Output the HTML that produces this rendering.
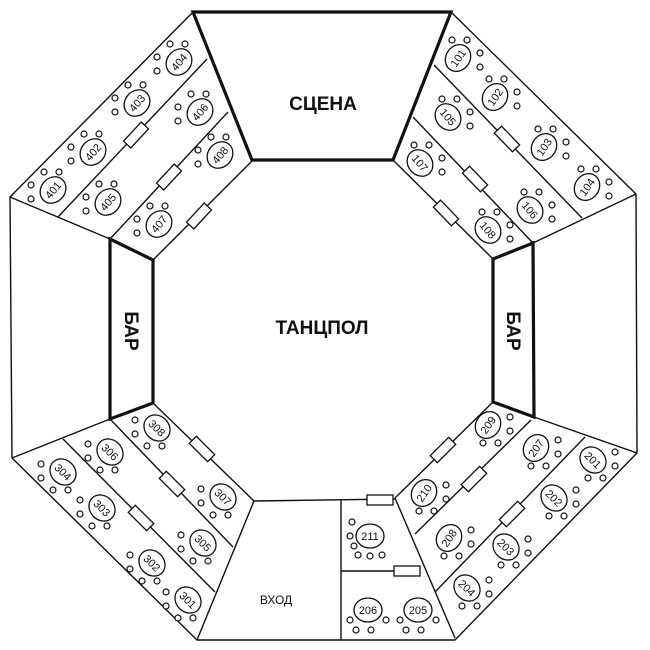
<!DOCTYPE html>
<html><head><meta charset="utf-8"><style>
html,body{margin:0;padding:0;background:#fff}
svg{display:block}
text{font-family:"Liberation Sans",sans-serif;fill:#111}
</style></head><body>
<svg id="s" width="650" height="650" viewBox="0 0 650 650" xmlns="http://www.w3.org/2000/svg">
<g fill="none" stroke="#111" stroke-width="1.4" stroke-linejoin="round">
<polyline points="193,12 10,197 12,458 197,640 455,640 637,453 636,194 451,12"/>
<line x1="10" y1="197" x2="110" y2="239"/>
<line x1="207" y1="59" x2="58" y2="217"/>
<line x1="228" y1="112" x2="110" y2="239"/>
<line x1="636" y1="194" x2="533" y2="243"/>
<line x1="434" y1="65" x2="582" y2="218"/>
<line x1="413" y1="117" x2="533" y2="243"/>
<line x1="12" y1="458" x2="110" y2="419"/>
<line x1="63" y1="439" x2="215" y2="592"/>
<line x1="110" y1="419" x2="233" y2="547"/>
<line x1="153" y1="403" x2="254" y2="501"/>
<line x1="254" y1="501" x2="197" y2="640"/>
<line x1="254" y1="501" x2="395" y2="499"/>
<line x1="341" y1="500" x2="341" y2="640"/>
<line x1="341" y1="571" x2="420" y2="571"/>
<line x1="395" y1="498" x2="455" y2="638"/>
<line x1="395" y1="498" x2="493" y2="402"/>
<line x1="534" y1="417" x2="637" y2="453"/>
<line x1="531" y1="420" x2="415" y2="534"/>
<line x1="585" y1="437" x2="435" y2="592"/>
<line x1="252" y1="161" x2="153" y2="260"/>
<line x1="393" y1="160" x2="493" y2="259"/>
</g>
<g fill="none" stroke="#111" stroke-width="3.2" stroke-linejoin="miter">
<polygon points="193,12 451,12 393,160 252,160"/>
<polygon points="110,239 153,260 153,403 110,419"/>
<polygon points="493,259 533,243 534,417 493,402"/>
</g>
<text x="323" y="110" font-size="19" font-weight="bold" text-anchor="middle">СЦЕНА</text>
<text x="322" y="334" font-size="19" font-weight="bold" text-anchor="middle">ТАНЦПОЛ</text>
<text x="0" y="0" font-size="19" font-weight="bold" text-anchor="middle" transform="translate(125,331) rotate(90)">БАР</text>
<text x="0" y="0" font-size="19" font-weight="bold" text-anchor="middle" transform="translate(507,331) rotate(90)">БАР</text>
<text x="276" y="604" font-size="12" text-anchor="middle">ВХОД</text>
<g id="t"></g>
</svg>
<script>
var g=document.getElementById('t'),h='';
var T=[
[401,53,190,-50,'a'],[402,93,152,-50,'a'],[403,137,103,-50,'a'],[404,179,62,-50,'a'],[405,108,202,-50,'a'],[406,200,112,-50,'a'],[407,159,224,-50,'a'],[408,220,155,-50,'a'],
[101,458,58,-55,'b'],[102,495,97,-55,'b'],[103,544,147,-55,'b'],[104,587,187,-55,'b'],[105,448,117,50,'b'],[106,530,210,50,'b'],[107,420,163,50,'b'],[108,488,230,50,'b'],
[304,63,472,45,'c'],[303,102,508,45,'c'],[302,152,563,45,'c'],[301,188,600,45,'c'],[306,110,452,45,'c'],[305,203,543,45,'c'],[308,157,428,45,'c'],[307,223,497,45,'c'],
[209,488,425,-55,'d'],[210,424,493,-55,'d'],[207,536,448,-55,'d'],[208,449,538,-55,'d'],[201,593,460,45,'d'],[202,554,498,45,'d'],[203,506,547,45,'d'],[204,467,588,45,'d'],
[211,370,536,0,'e'],[206,368,610,0,'f'],[205,418,610,0,'f']];
var D={a:[[6,-18],[-9,-18],[-22,-5],[-22,9]],b:[[-6,-18],[9,-18],[22,-5],[22,9]],
c:[[-22,-8],[-22,6],[-10,18],[5,18]],d:[[22,-8],[22,6],[10,18],[-5,18]],
e:[[-18,-14],[-20,0],[-16,10],[-12,19],[0,20],[12,19]],f:[[-18,10],[-12,20],[3,20],[18,10]]};
T.forEach(function(t){
 h+='<ellipse cx="'+t[1]+'" cy="'+t[2]+'" rx="14" ry="12" fill="#fff" stroke="#111" stroke-width="1.3" transform="rotate('+t[3]+' '+t[1]+' '+t[2]+')"/>';
 h+='<text x="'+t[1]+'" y="'+(t[2]+4)+'" font-size="11" text-anchor="middle" transform="rotate('+t[3]+' '+t[1]+' '+t[2]+')">'+t[0]+'</text>';
 D[t[4]].forEach(function(d){h+='<circle cx="'+(t[1]+d[0])+'" cy="'+(t[2]+d[1])+'" r="3" fill="#fff" stroke="#111" stroke-width="1.2"/>';});
});
var B=[[136,135,-47],[169,177,-47],[199,216,-47],[507,139,46],[475,179,46],[446,213,46],[141,518,45],[172,484,45],[202,449,45],[443,450,-45],[474,479,-45],[512,514,-45],[380,500,0],[407,571,0]];
B.forEach(function(b){h+='<rect x="'+(b[0]-13)+'" y="'+(b[1]-5)+'" width="26" height="10" fill="#fff" stroke="#111" stroke-width="1.3" transform="rotate('+b[2]+' '+b[0]+' '+b[1]+')"/>';});
g.innerHTML=h;
</script>
</body></html>
